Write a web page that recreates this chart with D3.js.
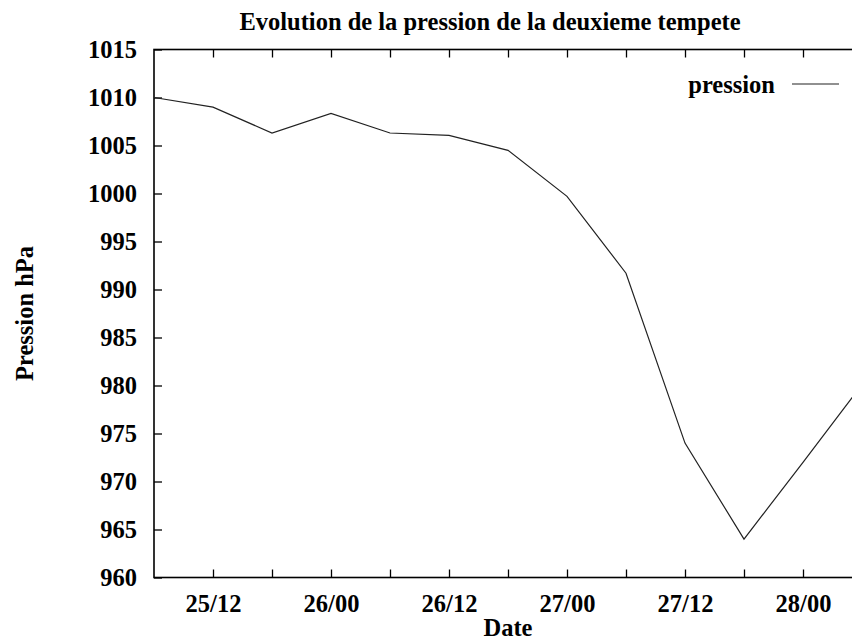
<!DOCTYPE html>
<html>
<head>
<meta charset="utf-8">
<script src="https://cdn.jsdelivr.net/npm/d3@7"></script>
<style>
  html, body { margin: 0; padding: 0; background: #fff; }
  svg text { font-family: "Liberation Serif", "Times New Roman", serif; font-weight: bold; fill: #000; }
</style>
</head>
<body>
<svg id="chart" width="852" height="642"></svg>
<script>
// Sea-level pressure every 6 hours, 25 Dec 06h to 28 Dec 06h (1999)
const times = [
  "1999-12-25T06", "1999-12-25T12", "1999-12-25T18",
  "1999-12-26T00", "1999-12-26T06", "1999-12-26T12", "1999-12-26T18",
  "1999-12-27T00", "1999-12-27T06", "1999-12-27T12", "1999-12-27T18",
  "1999-12-28T00", "1999-12-28T06"
];
const pressure = [1010.0, 1009.0, 1006.3, 1008.35, 1006.3, 1006.05, 1004.5,
                  999.7, 991.7, 974.0, 964.0, 972.0, 980.1];

// Labelled ticks every 12 h, plain ticks in between
const majorTicks = ["1999-12-25T12", "1999-12-26T00", "1999-12-26T12",
                    "1999-12-27T00", "1999-12-27T12", "1999-12-28T00"];
const minorTicks = ["1999-12-25T18", "1999-12-26T06", "1999-12-26T18",
                    "1999-12-27T06", "1999-12-27T18"];
const yTicks = [960, 965, 970, 975, 980, 985, 990, 995, 1000, 1005, 1010, 1015];

const titleText = "Evolution de la pression de la deuxieme tempete";
const xLabel = "Date";
const yLabel = "Pression hPa";
const seriesName = "pression";

const parse = d3.utcParse("%Y-%m-%dT%H");
const key = d3.utcFormat("%Y-%m-%dT%H");
const fmt = d3.utcFormat("%d/%H");

const svg = d3.select("#chart");
const plotLeft = 154, plotRight = 862, plotTop = 49.5, plotBottom = 577.5;
const fontSize = 24.5;

const x = d3.scaleUtc()
  .domain([parse(times[0]), parse(times[times.length - 1])])
  .range([plotLeft, plotRight]);
const y = d3.scaleLinear().domain([960, 1015]).range([plotBottom, plotTop]);

const tickLen = 8;

// Clip so the series stops at the frame
svg.append("defs").append("clipPath").attr("id", "plot-clip")
  .append("rect").attr("x", plotLeft).attr("y", plotTop)
  .attr("width", plotRight - plotLeft).attr("height", plotBottom - plotTop);

const allXTicks = majorTicks.concat(minorTicks).map(parse);

// Bottom axis: inward ticks, labels below
const xAxisBottom = d3.axisBottom(x)
  .tickValues(allXTicks)
  .tickSize(-tickLen)
  .tickPadding(17)
  .tickFormat(d => majorTicks.includes(key(d)) ? fmt(d) : "");
const gxb = svg.append("g").attr("transform", `translate(0,${plotBottom})`).call(xAxisBottom);

// Mirrored ticks on the top border
const xAxisTop = d3.axisTop(x)
  .tickValues(allXTicks)
  .tickSize(-tickLen)
  .tickFormat("");
const gxt = svg.append("g").attr("transform", `translate(0,${plotTop})`).call(xAxisTop);

// Left axis
const yAxis = d3.axisLeft(y).tickValues(yTicks).tickSize(-tickLen).tickPadding(17)
  .tickFormat(d3.format("d"));
const gy = svg.append("g").attr("transform", `translate(${plotLeft},0)`).call(yAxis);

[gxb, gxt, gy].forEach(g => {
  g.select(".domain").remove();
  g.selectAll(".tick line").attr("stroke", "#000").attr("stroke-width", 1.3);
  g.selectAll("text").attr("font-size", fontSize).attr("fill", "#000")
    .style("font-family", '"Liberation Serif", serif').style("font-weight", "bold");
});

// Frame
svg.append("rect").attr("x", plotLeft).attr("y", plotTop)
  .attr("width", plotRight - plotLeft).attr("height", plotBottom - plotTop)
  .attr("fill", "none").attr("stroke", "#000").attr("stroke-width", 1.6);

// Series
const line = d3.line()
  .x((d, i) => x(parse(times[i])))
  .y(d => y(d));
svg.append("path").datum(pressure)
  .attr("clip-path", "url(#plot-clip)")
  .attr("d", line)
  .attr("fill", "none").attr("stroke", "#222").attr("stroke-width", 1.2);

// Title and axis labels
svg.append("text").attr("x", 490).attr("y", 29.5).attr("text-anchor", "middle")
  .attr("font-size", fontSize).text(titleText);
svg.append("text").attr("x", (plotLeft + plotRight) / 2).attr("y", 636).attr("text-anchor", "middle")
  .attr("font-size", fontSize).text(xLabel);
svg.append("text").attr("transform", `translate(33,${(plotTop + plotBottom) / 2}) rotate(-90)`)
  .attr("text-anchor", "middle").attr("font-size", fontSize).text(yLabel);

// Legend
svg.append("text").attr("x", 775).attr("y", 93).attr("text-anchor", "end")
  .attr("font-size", fontSize).text(seriesName);
svg.append("line").attr("x1", 792).attr("x2", 839).attr("y1", 84).attr("y2", 84)
  .attr("stroke", "#222").attr("stroke-width", 1.2);
</script>
</body>
</html>
